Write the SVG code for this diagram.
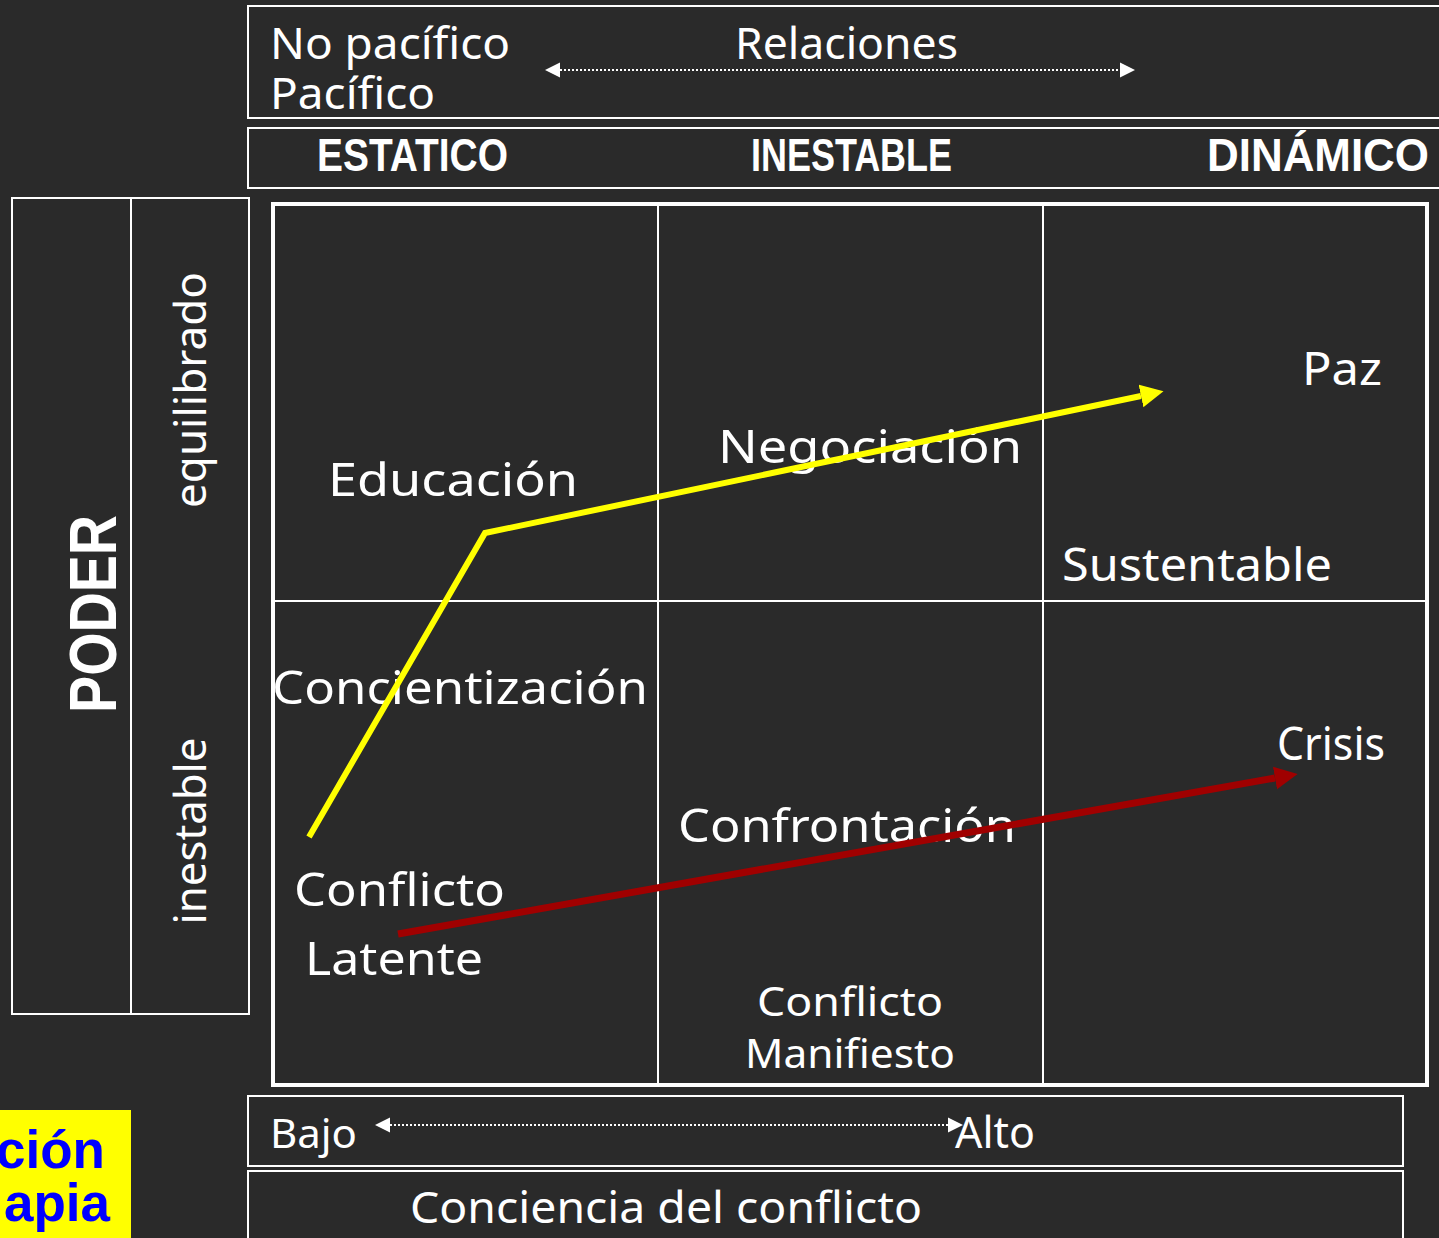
<svg xmlns="http://www.w3.org/2000/svg" width="1439" height="1238" viewBox="0 0 1439 1238">
<style>
.box{fill:none;stroke:#ffffff;stroke-width:2}
.t{font-family:"Noto Sans","Liberation Sans",sans-serif;fill:#ffffff;font-size:44px}
.tb{font-family:"Liberation Sans","Noto Sans",sans-serif;font-weight:bold;fill:#ffffff;font-size:46px}
.big{font-size:46px}
.sm{font-size:40px}
.dot{stroke:#ffffff;stroke-width:2;stroke-dasharray:2 2;fill:none}
.lbl{font-family:"Liberation Sans",Arial,sans-serif;font-weight:bold;font-size:53px;fill:#0000ff}
</style>
<defs>
<marker id="wh" markerUnits="userSpaceOnUse" markerWidth="16" markerHeight="16" viewBox="0 -8 15 16" refX="0" refY="0" orient="auto-start-reverse"><path d="M0,-7.5 L15,0 L0,7.5 z" fill="#ffffff"/></marker>
<marker id="yh" markerUnits="userSpaceOnUse" markerWidth="24" markerHeight="24" viewBox="0 -12 24 24" refX="0" refY="0" orient="auto"><path d="M0,-11.5 L23,0 L0,11.5 z" fill="#ffff00"/></marker>
<marker id="rh" markerUnits="userSpaceOnUse" markerWidth="24" markerHeight="24" viewBox="0 -12 24 24" refX="0" refY="0" orient="auto"><path d="M0,-11.5 L23,0 L0,11.5 z" fill="#a00000"/></marker>
</defs>
<rect x="0" y="0" width="1439" height="1238" fill="#2a2a2a"/>

<g id="relaciones">
<rect class="box" x="248" y="6" width="1200" height="112"/>
<text class="t" x="270" y="59" textLength="240" lengthAdjust="spacingAndGlyphs">No pacífico</text>
<text class="t" x="270" y="109" textLength="165" lengthAdjust="spacingAndGlyphs">Pacífico</text>
<text class="t" x="735" y="59" textLength="223" lengthAdjust="spacingAndGlyphs">Relaciones</text>
</g>
<g id="estados">
<rect class="box" x="248" y="128" width="1200" height="60"/>
<text class="tb" x="317" y="171" textLength="191" lengthAdjust="spacingAndGlyphs">ESTATICO</text>
<text class="tb" x="751" y="171" textLength="201" lengthAdjust="spacingAndGlyphs">INESTABLE</text>
<text class="tb" x="1207" y="171" textLength="222" lengthAdjust="spacingAndGlyphs">DINÁMICO</text>
</g>
<g id="poder">
<rect class="box" x="12" y="198" width="237" height="816"/>
<line class="box" x1="131" y1="198" x2="131" y2="1014"/>
<text class="tb" style="font-size:67px" text-anchor="middle" transform="translate(116 614) rotate(-90)" textLength="198" lengthAdjust="spacingAndGlyphs">PODER</text>
<text class="t" text-anchor="middle" transform="translate(206 390) rotate(-90)" textLength="236" lengthAdjust="spacingAndGlyphs">equilibrado</text>
<text class="t" text-anchor="middle" transform="translate(206 831) rotate(-90)" textLength="187" lengthAdjust="spacingAndGlyphs">inestable</text>
</g>
<g id="matriz">
<rect x="273" y="204" width="1154" height="881" fill="none" stroke="#ffffff" stroke-width="4"/>
<line class="box" x1="658" y1="204" x2="658" y2="1085"/>
<line class="box" x1="1043" y1="204" x2="1043" y2="1085"/>
<line class="box" x1="273" y1="601" x2="1427" y2="601"/>
</g>
<g id="celdas">
<text class="t big" x="328" y="496" textLength="250" lengthAdjust="spacingAndGlyphs">Educación</text>
<text class="t big" x="718" y="463" textLength="304" lengthAdjust="spacingAndGlyphs">Negociación</text>
<text class="t big" x="1302" y="385" textLength="80" lengthAdjust="spacingAndGlyphs">Paz</text>
<text class="t big" x="1062" y="581" textLength="270" lengthAdjust="spacingAndGlyphs">Sustentable</text>
<text class="t big" x="272" y="704" textLength="376" lengthAdjust="spacingAndGlyphs">Concientización</text>
<text class="t big" x="1277" y="760" textLength="108" lengthAdjust="spacingAndGlyphs">Crisis</text>
<text class="t big" x="678" y="842" textLength="338" lengthAdjust="spacingAndGlyphs">Confrontación</text>
<text class="t big" x="294" y="906" textLength="211" lengthAdjust="spacingAndGlyphs">Conflicto</text>
<text class="t big" x="305" y="975" textLength="178" lengthAdjust="spacingAndGlyphs">Latente</text>
<text class="t sm" x="757" y="1016" textLength="186" lengthAdjust="spacingAndGlyphs">Conflicto</text>
<text class="t sm" x="745" y="1068" textLength="210" lengthAdjust="spacingAndGlyphs">Manifiesto</text>
</g>
<g id="conciencia">
<rect class="box" x="248" y="1096" width="1155" height="70"/>
<text class="t sm" x="270" y="1148" textLength="87" lengthAdjust="spacingAndGlyphs">Bajo</text>
<text class="t" x="955" y="1148" textLength="80" lengthAdjust="spacingAndGlyphs">Alto</text>
<rect class="box" x="248" y="1171" width="1155" height="80"/>
<text class="t" x="410" y="1223" textLength="512" lengthAdjust="spacingAndGlyphs">Conciencia del conflicto</text>
</g>
<g id="etiqueta">
<rect x="0" y="1110" width="131" height="128" fill="#ffff00"/>
<text class="lbl" x="105" y="1168" text-anchor="end">ción</text>
<text class="lbl" x="110" y="1221" text-anchor="end">apia</text>
</g>
<g id="conectores">
<line class="dot" x1="560" y1="70" x2="1120" y2="70" marker-start="url(#wh)" marker-end="url(#wh)"/>
<line class="dot" x1="390" y1="1125" x2="948" y2="1125" marker-start="url(#wh)" marker-end="url(#wh)"/>
<polyline points="309,837 485,533 1141,396" fill="none" stroke="#ffff00" stroke-width="6" stroke-linejoin="miter" marker-end="url(#yh)"/>
<line x1="398" y1="934" x2="1275" y2="778" stroke="#a00000" stroke-width="7" marker-end="url(#rh)"/>
</g>
</svg>
